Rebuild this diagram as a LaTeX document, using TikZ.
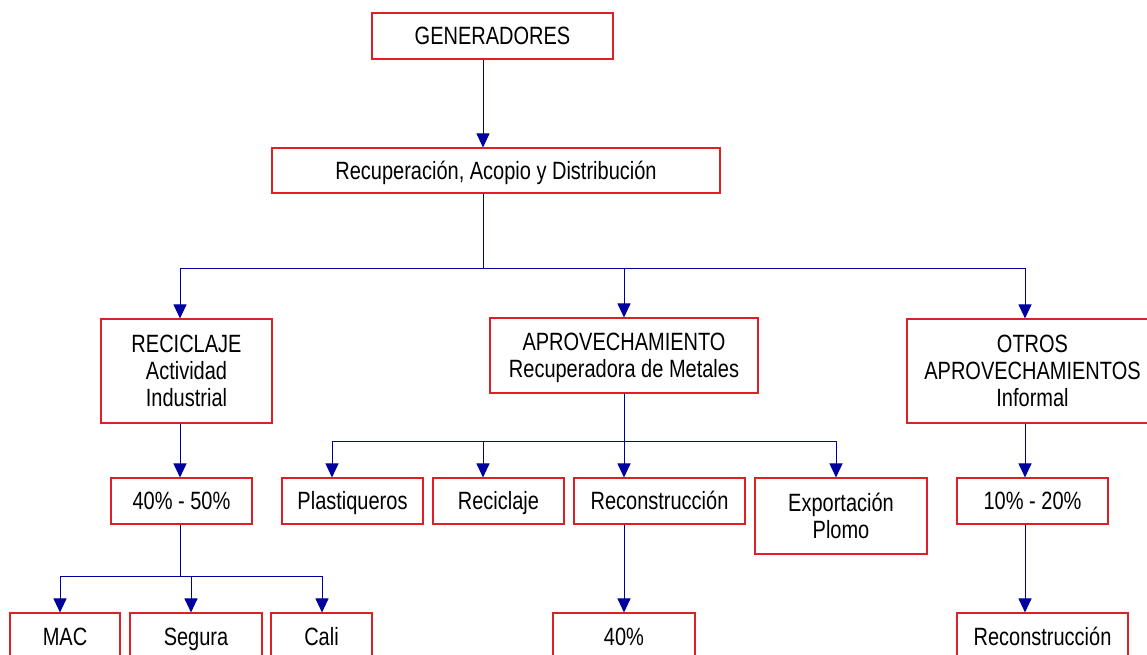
\documentclass[tikz,border=0pt]{standalone}
\usepackage{fontspec}
\setmainfont{Liberation Sans}[FakeStretch=0.8]
\usetikzlibrary{arrows.meta}
\definecolor{boxred}{RGB}{222,32,38}
\definecolor{linkblue}{RGB}{0,0,158}
\tikzset{
  box/.style={draw=boxred, line width=1.1pt, inner sep=0pt, align=center,
    font=\fontsize{25}{27}\selectfont},
  one/.style={box, text height=17.9pt, text depth=0pt},
  two/.style={box, text height=44.9pt, text depth=0pt},
  three/.style={box, text height=71.9pt, text depth=0pt},
  link/.style={draw=linkblue, line width=1pt},
  arr/.style={link, -{Triangle[width=13pt,length=14pt,fill=linkblue]}},
}
\begin{document}
\begin{tikzpicture}[x=1pt, y=-1pt]
\useasboundingbox (0,0) rectangle (1147,655);
\clip (0,0) rectangle (1147,655);

% top levels
\node[one, minimum width=241pt, minimum height=46pt] (gen) at (492.5,36) {GENERADORES};
\node[one, minimum width=448pt, minimum height=45pt] (rec) at (496,170.5) {Recuperación, Acopio y Distribución};

% second level
\node[three, minimum width=171pt, minimum height=104pt] (recic) at (186.5,371) {RECICLAJE\\Actividad\\Industrial};
\node[two, minimum width=268pt, minimum height=75pt] (aprov) at (624,355.5) {APROVECHAMIENTO\\Recuperadora de Metales};
\node[three, minimum width=251pt, minimum height=104pt] (otros) at (1032.5,371) {OTROS\\APROVECHAMIENTOS\\Informal};

% third level
\node[one, minimum width=141pt, minimum height=46pt] (p4050) at (181.5,501) {40\% - 50\%};
\node[one, minimum width=141pt, minimum height=46pt] (plast) at (352.5,501) {Plastiqueros};
\node[one, minimum width=131pt, minimum height=46pt] (recicl) at (498.5,501) {Reciclaje};
\node[one, minimum width=171pt, minimum height=46pt] (recon) at (659.5,501) {Reconstrucción};
\node[two, minimum width=172pt, minimum height=76pt] (export) at (841,516) {Exportación\\Plomo};
\node[one, minimum width=151pt, minimum height=46pt] (p1020) at (1032.5,501) {10\% - 20\%};

% bottom level
\node[one, minimum width=110pt, minimum height=48pt] (mac) at (65,637) {MAC};
\node[one, minimum width=132pt, minimum height=48pt] (segura) at (196,637) {Segura};
\node[one, minimum width=101pt, minimum height=48pt] (cali) at (321.5,637) {Cali};
\node[one, minimum width=142pt, minimum height=48pt] (p40) at (624,637) {40\%};
\node[one, minimum width=171pt, minimum height=48pt] (recon2) at (1042.5,637) {Reconstrucción};

% branch points
\coordinate (j1) at (483,268);
\coordinate (a1) at (180,268);
\coordinate (a2) at (624,268);
\coordinate (a3) at (1025,268);
\coordinate (b0) at (180,576);
\coordinate (b1) at (60,576);
\coordinate (b2) at (191,576);
\coordinate (b3) at (322,576);
\coordinate (c0) at (624,441);
\coordinate (c1) at (332,441);
\coordinate (c2) at (483,441);
\coordinate (c4) at (836,441);

% connectors
\draw[arr] (gen.south -| j1) -- (rec.north -| j1);
\draw[link] (rec.south -| j1) -- (j1);
\draw[link] (a1) -- (a3);
\draw[arr] (a1) -- (recic.north -| a1);
\draw[arr] (a2) -- (aprov.north -| a2);
\draw[arr] (a3) -- (otros.north -| a3);

\draw[arr] (recic.south -| a1) -- (p4050.north -| a1);
\draw[link] (p4050.south -| b0) -- (b0);
\draw[link] (b1) -- (b3);
\draw[arr] (b1) -- (mac.north -| b1);
\draw[arr] (b2) -- (segura.north -| b2);
\draw[arr] (b3) -- (cali.north -| b3);

\draw[link] (aprov.south -| c0) -- (c0);
\draw[link] (c1) -- (c4);
\draw[arr] (c1) -- (plast.north -| c1);
\draw[arr] (c2) -- (recicl.north -| c2);
\draw[arr] (c0) -- (recon.north -| c0);
\draw[arr] (c4) -- (export.north -| c4);
\draw[arr] (recon.south -| c0) -- (p40.north -| c0);

\draw[arr] (otros.south -| a3) -- (p1020.north -| a3);
\draw[arr] (p1020.south -| a3) -- (recon2.north -| a3);
\end{tikzpicture}
\end{document}
